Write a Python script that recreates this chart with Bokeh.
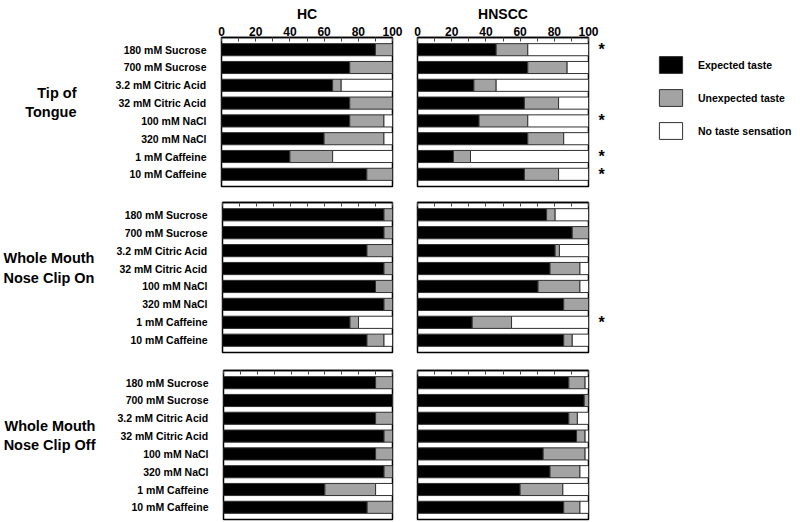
from bokeh.plotting import figure
from bokeh.models import (Range1d, FixedTicker, LinearAxis,
                          ColumnDataSource, Legend, LegendItem)
from bokeh.layouts import column, row
from bokeh.embed import file_html
from bokeh.resources import INLINE

# ---------------- data ----------------
stimuli = ["180 mM Sucrose", "700 mM Sucrose", "3.2 mM Citric Acid", "32 mM Citric Acid",
           "100 mM NaCl", "320 mM NaCl", "1 mM Caffeine", "10 mM Caffeine"]
groups = ["Tip of\nTongue", "Whole Mouth\nNose Clip On", "Whole Mouth\nNose Clip Off"]
cohorts = ["HC", "HNSCC"]
series_names = ["Expected taste", "Unexpected taste", "No taste sensation"]
x_ticks = [0, 10, 20, 30, 40, 50, 60, 70, 80, 90, 100]
x_tick_labels = ["0", "", "20", "", "40", "", "60", "", "80", "", "100"]

# Tip of tongue
hc_tip_expected = [90, 75, 65, 75, 75, 60, 40, 85]
hc_tip_unexpected = [10, 25, 5, 25, 20, 35, 25, 15]
hc_tip_none = [0, 0, 30, 0, 5, 5, 35, 0]
hn_tip_expected = [46, 64.5, 33, 62.5, 36, 64.5, 21, 62.5]
hn_tip_unexpected = [18.5, 23, 13, 20, 28.5, 21, 10, 20]
hn_tip_none = [35.5, 12.5, 54, 17.5, 35.5, 14.5, 69, 17.5]
hn_tip_signif = ["180 mM Sucrose", "100 mM NaCl", "1 mM Caffeine", "10 mM Caffeine"]

# Whole mouth, nose clip on
hc_on_expected = [95, 95, 85, 95, 90, 95, 75, 85]
hc_on_unexpected = [5, 5, 15, 5, 10, 5, 5, 10]
hc_on_none = [0, 0, 0, 0, 0, 0, 20, 5]
hn_on_expected = [75.5, 90.5, 80.5, 77.5, 70.5, 85.5, 32, 85.5]
hn_on_unexpected = [5, 9.5, 2.5, 17.5, 24.5, 14.5, 23, 5]
hn_on_none = [19.5, 0, 17, 5, 5, 0, 45, 9.5]
hn_on_signif = ["1 mM Caffeine"]

# Whole mouth, nose clip off
hc_off_expected = [90, 100, 90, 95, 90, 95, 60, 85]
hc_off_unexpected = [10, 0, 10, 5, 10, 5, 30, 15]
hc_off_none = [0, 0, 0, 0, 0, 0, 10, 0]
hn_off_expected = [88.5, 97.5, 88.5, 93, 73.5, 77.5, 60, 85.5]
hn_off_unexpected = [9.5, 2.5, 5, 5, 24.5, 17.5, 25, 9.5]
hn_off_none = [2, 0, 6.5, 2, 2, 5, 15, 5]
hn_off_signif = []

# ---------------- style ----------------
FONT = "Liberation Sans"
COLORS = ["black", "#a3a3a3", "white"]
BAR_LINE = "#303030"
X_MAX = 100
N = len(stimuli)
YPOS = [N - 1 - i for i in range(N)]      # first stimulus at the top
EDGE = 0.685                               # half-slot padding at the range ends


def stack(p, expected, unexpected, none):
    src = ColumnDataSource(dict(y=YPOS, exp=expected, unexp=unexpected, none=none))
    return p.hbar_stack(["exp", "unexp", "none"], y="y", height=0.68, source=src,
                        fill_color=COLORS, line_color=BAR_LINE, line_width=1)


def make_panel(expected, unexpected, none, is_hc, first_row, width, height,
               b_left, b_right, b_top, b_bottom, group_label=None, group_standoff=20,
               signif=None, title=None):
    p = figure(width=width, height=height,
               x_range=Range1d(0, X_MAX),
               y_range=Range1d(-EDGE, N - 1 + EDGE),
               x_axis_location="above",
               y_axis_location="left" if is_hc else None,
               output_backend="svg", toolbar_location=None,
               min_border_left=b_left, min_border_right=b_right,
               min_border_top=b_top, min_border_bottom=b_bottom)
    if title:
        p.title.text = title
        p.title.align = "center"
        p.title.text_font = FONT
        p.title.text_font_style = "bold"
        p.title.text_font_size = "14px"
        p.title.text_color = "black"
        p.title.standoff = 4
        p.title.offset = 0
    rs = stack(p, expected, unexpected, none)
    p.xgrid.visible = False
    p.ygrid.visible = False
    p.outline_line_color = "black"
    p.outline_line_width = 1.5
    p.background_fill_color = "white"
    p.border_fill_color = "white"

    xa = p.xaxis[0]
    xa.ticker = FixedTicker(ticks=x_ticks)
    xa.major_tick_in = 4
    xa.major_tick_out = 0
    xa.major_tick_line_color = "#444444"
    xa.minor_tick_line_color = None
    xa.axis_line_color = "black"
    xa.axis_line_width = 1.5
    xa.major_label_text_font = FONT
    xa.major_label_text_font_style = "bold"
    xa.major_label_text_font_size = "12px"
    xa.major_label_text_color = "black"
    if first_row:
        xa.major_label_overrides = {t: l for t, l in zip(x_ticks, x_tick_labels)}
        xa.major_label_standoff = 2
    else:
        xa.major_label_overrides = {t: "" for t in x_ticks}
        xa.major_label_standoff = 0

    if is_hc:
        ya = p.yaxis[0]
        ya.ticker = FixedTicker(ticks=YPOS)
        ya.major_label_overrides = {y: s for y, s in zip(YPOS, stimuli)}
        ya.major_tick_line_color = None
        ya.minor_tick_line_color = None
        ya.axis_line_color = None
        ya.major_label_text_font = FONT
        ya.major_label_text_font_style = "bold"
        ya.major_label_text_font_size = "10.5px"
        ya.major_label_text_color = "black"
        ya.major_label_standoff = 9
        if group_label is not None:
            ya.axis_label = group_label + "\n"
            ya.axis_label_orientation = "horizontal"
            ya.axis_label_standoff = group_standoff
            ya.axis_label_text_font = FONT
            ya.axis_label_text_font_style = "bold"
            ya.axis_label_text_font_size = "14.5px"
            ya.axis_label_text_color = "black"
            ya.axis_label_text_line_height = 1.2

    if signif:
        pos = [YPOS[stimuli.index(s)] for s in signif]
        sa = LinearAxis(ticker=FixedTicker(ticks=pos),
                        major_label_overrides={v: "*" for v in pos})
        sa.major_tick_line_color = None
        sa.minor_tick_line_color = None
        sa.axis_line_color = None
        sa.major_label_standoff = 4
        sa.major_label_text_font = FONT
        sa.major_label_text_font_style = "bold"
        sa.major_label_text_font_size = "16px"
        sa.major_label_text_color = "black"
        sa.major_label_text_baseline = "top"
        p.add_layout(sa, "right")
    return p, rs


HC_L = 221
HC_W = HC_L + 171 + 12
HN_L = 13
HN_W = HN_L + 171 + 30

# Row 1
hc1, _ = make_panel(hc_tip_expected, hc_tip_unexpected, hc_tip_none, True, True,
                    HC_W, 190, HC_L, 12, 37, 4, group_label=groups[0], group_standoff=36,
                    title=cohorts[0])
hn1, _ = make_panel(hn_tip_expected, hn_tip_unexpected, hn_tip_none, False, True,
                    HN_W, 190, HN_L, 30, 37, 4, signif=hn_tip_signif, title=cohorts[1])

# legend panel: its own copy of the three stacked series, kept outside its visible range,
# serves as the key for the swatches
leg = figure(width=800 - HC_W - HN_W, height=190,
             x_range=Range1d(-2 * X_MAX, -X_MAX), y_range=Range1d(-2 * N, -N),
             x_axis_location=None, y_axis_location=None, output_backend="svg",
             toolbar_location=None, min_border=0, min_border_left=0, min_border_right=0,
             min_border_top=0, min_border_bottom=0)
leg.outline_line_color = None
leg.xgrid.visible = False
leg.ygrid.visible = False
key_renderers = stack(leg, hn_tip_expected, hn_tip_unexpected, hn_tip_none)
legend = Legend(items=[LegendItem(label=s, renderers=[r]) for s, r in zip(series_names, key_renderers)],
                location=(38, 45), glyph_width=29, glyph_height=21, spacing=12,
                label_standoff=13, padding=0, margin=0, border_line_color=None,
                background_fill_alpha=0, label_text_font=FONT,
                label_text_font_style="bold", label_text_font_size="10.5px",
                label_text_color="black")
leg.add_layout(legend)

# Row 2
hc2, _ = make_panel(hc_on_expected, hc_on_unexpected, hc_on_none, True, False,
                    HC_W, 166, HC_L, 12, 12, 4, group_label=groups[1], group_standoff=19)
hn2, _ = make_panel(hn_on_expected, hn_on_unexpected, hn_on_none, False, False,
                    HN_W, 166, HN_L, 30, 12, 4, signif=hn_on_signif)

# Row 3
hc3, _ = make_panel(hc_off_expected, hc_off_unexpected, hc_off_none, True, False,
                    HC_W, 165, HC_L, 12, 14, 2, group_label=groups[2], group_standoff=19)
hn3, _ = make_panel(hn_off_expected, hn_off_unexpected, hn_off_none, False, False,
                    HN_W, 165, HN_L, 30, 14, 2, signif=hn_off_signif)

layout = column(row(hc1, hn1, leg), row(hc2, hn2), row(hc3, hn3))

open("out.html", "w").write(file_html(layout, INLINE))
